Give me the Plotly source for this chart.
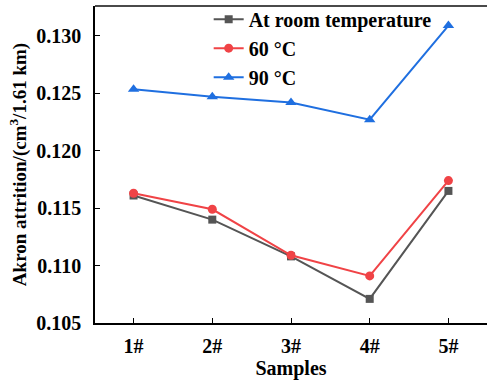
import plotly.graph_objects as go

samples = ["1#", "2#", "3#", "4#", "5#"]
x_pos = [1, 2, 3, 4, 5]
room_temp = [0.1161, 0.1140, 0.1108, 0.1071, 0.1165]
temp_60 = [0.1163, 0.1149, 0.1109, 0.1091, 0.1174]
temp_90 = [0.12535, 0.1247, 0.1242, 0.1227, 0.1309]
y_ticks = [0.105, 0.110, 0.115, 0.120, 0.125, 0.130]

FONT = "Liberation Serif, Times New Roman, serif"

fig = go.Figure()
fig.add_trace(go.Scatter(x=x_pos, y=room_temp, mode="lines+markers", name="At room temperature",
                         line=dict(color="#555555", width=2),
                         marker=dict(symbol="square", size=8, color="#555555"), legendgroup="a"))
fig.add_trace(go.Scatter(x=x_pos, y=temp_60, mode="lines+markers", name="60 \u00b0C",
                         line=dict(color="#F04346", width=2),
                         marker=dict(symbol="circle", size=9, color="#F04346"), legendgroup="b"))
fig.add_trace(go.Scatter(x=x_pos, y=temp_90, mode="lines+markers", name="90 \u00b0C",
                         line=dict(color="#1F6FE0", width=2),
                         marker=dict(symbol="triangle-up", size=10, color="#1F6FE0"), legendgroup="c"))

fig.update_layout(
    width=487, height=381,
    margin=dict(l=95, r=0, t=6, b=58, autoexpand=False),
    paper_bgcolor="white", plot_bgcolor="white",
    font=dict(family=FONT, color="black"),
    showlegend=True,
    legend=dict(x=0.29, y=1.02, xanchor="left", yanchor="top", bgcolor="rgba(0,0,0,0)",
                font=dict(family=FONT, size=20, color="black", weight="bold"),
                tracegroupgap=0, itemwidth=30),
    xaxis=dict(range=[0.51, 5.49], tickvals=x_pos, ticktext=samples,
               showline=True, linecolor="black", linewidth=1.5, ticks="inside", ticklen=5,
               tickwidth=1.2, tickcolor="black", showgrid=False, zeroline=False,
               ticklabelstandoff=4,
               tickfont=dict(family=FONT, size=20, color="black", weight="bold"),
               title=dict(text="Samples", font=dict(family=FONT, size=20, color="black", weight="bold"),
                          standoff=0)),
    yaxis=dict(range=[0.105, 0.1326], tickvals=y_ticks, ticktext=[f"{v:.3f}" for v in y_ticks],
               showline=True, linecolor="black", linewidth=1.5, ticks="inside", ticklen=5,
               tickwidth=1.2, tickcolor="black", showgrid=False, zeroline=False,
               ticklabelstandoff=8,
               tickfont=dict(family=FONT, size=20, color="black", weight="bold"),
               title=dict(text="Akron attrition/(cm<sup>3</sup>/1.61 km)",
                          font=dict(family=FONT, size=19, color="black", weight="bold"),
                          standoff=5)),
)
fig.add_shape(type="line", xref="paper", yref="paper", x0=0, x1=1, y0=1, y1=1,
              line=dict(color="#4a4a4a", width=2))
fig.write_html("out.html", config={"displayModeBar": False},
               post_script="document.body.style.margin='0';document.body.style.overflow='hidden';")
